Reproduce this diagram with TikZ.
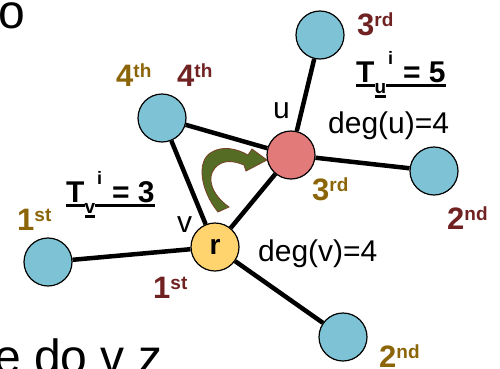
\documentclass[tikz,border=0pt]{standalone}
\usepackage{fontspec}
\setmainfont{Liberation Sans}
\usepackage{tikz}
\usetikzlibrary{arrows.meta}
\definecolor{leafblue}{RGB}{126,195,213}
\definecolor{upink}{RGB}{226,122,122}
\definecolor{ryellow}{RGB}{255,212,110}
\definecolor{ordgold}{RGB}{139,101,8}
\definecolor{ordred}{RGB}{112,34,34}
\definecolor{arrgreen}{RGB}{84,108,36}
\definecolor{arrbrown}{RGB}{120,66,40}
\newcommand{\ordn}[2]{\bfseries #1\raisebox{9pt}{\fontsize{19}{19}\selectfont #2}}
\newcommand{\tuline}[2][-5pt]{\setbox0\hbox{#2}\rlap{\rule[#1]{\wd0}{3.5pt}}\box0}
\newcommand{\tval}[2]{\bfseries\tuline{T}\raisebox{-11pt}{\tuline[-5pt]{\fontsize{19}{19}\selectfont #1}}\tuline{\hspace{2pt}\raisebox{18pt}{\fontsize{18}{18}\selectfont i}\hspace{10pt}= #2}}

\tikzset{
  vert/.style={circle,draw=black,line width=1.2pt,minimum size=48pt,inner sep=0pt},
  leaf/.style={vert,fill=leafblue},
  lbl/.style={anchor=base west,inner sep=0pt,font=\fontsize{30}{36}\selectfont},
  ordlbl/.style={lbl,font=\fontsize{31}{36}\selectfont},
  edge/.style={line width=4.5pt}
}

\begin{document}
\begin{tikzpicture}[x=1pt,y=-1pt]
\useasboundingbox (0,0) rectangle (500,368);
\clip (0,0) rectangle (500,368);
\node[lbl,font=\fontsize{48}{56}\selectfont] (topword) at (-2,28) {o};
\node[lbl,font=\fontsize{48}{56}\selectfont] (botword) at (-6,373) {e do v z};

\node[leaf] (n3) at (320,35) {};
\node[vert,fill=upink] (u) at (291,155) {};
\node[leaf] (n4) at (162,118) {};
\node[leaf] (n2) at (434,171) {};
\node[vert,fill=ryellow,font=\fontsize{28}{34}\selectfont\bfseries] (r) at (215,247) {r};
\node[leaf] (n1) at (48,262) {};
\node[leaf] (n5) at (343,337) {};

\draw[edge] (n3) -- (u);
\draw[edge] (n4) -- (u);
\draw[edge] (n4) -- (r);
\draw[edge] (u) -- (n2);
\draw[edge] (u) -- (r);
\draw[edge] (r) -- (n1);
\draw[edge] (r) -- (n5);

\fill[arrgreen,draw=arrbrown,line width=0.8pt] (218,212)
  .. controls (200,190) and (196,160) .. (212,152)
  .. controls (222,146) and (236,148) .. (248,155)
  -- (252,149) -- (267,160) -- (246,171) -- (244,165)
  .. controls (232,160) and (222,160) .. (215,168)
  .. controls (206,178) and (212,195) .. (229,207) -- cycle;

\node[lbl] (lu) at (273,118) {u};
\node[lbl] (lv) at (177,232) {v};
\node[lbl] (degu) at (328,133) {deg(u)=4};
\node[lbl] (degv) at (258,261) {deg(v)=4};
\node[lbl] (tu) at (356,82) {\tval{u}{5}};
\node[lbl] (tv) at (66,202) {\tval{v}{3}};

\node[ordlbl,text=ordred] (o3r) at (357,35) {\ordn{3}{rd}};
\node[ordlbl,text=ordred] (o4r) at (177,86) {\ordn{4}{th}};
\node[ordlbl,text=ordred] (o2r) at (447,229) {\ordn{2}{nd}};
\node[ordlbl,text=ordred] (o1r) at (153,298) {\ordn{1}{st}};
\node[ordlbl,text=ordgold] (o4g) at (116,86) {\ordn{4}{th}};
\node[ordlbl,text=ordgold] (o3g) at (312,200) {\ordn{3}{rd}};
\node[ordlbl,text=ordgold] (o1g) at (17,230) {\ordn{1}{st}};
\node[ordlbl,text=ordgold] (o2g) at (379,367) {\ordn{2}{nd}};
\end{tikzpicture}
\end{document}
